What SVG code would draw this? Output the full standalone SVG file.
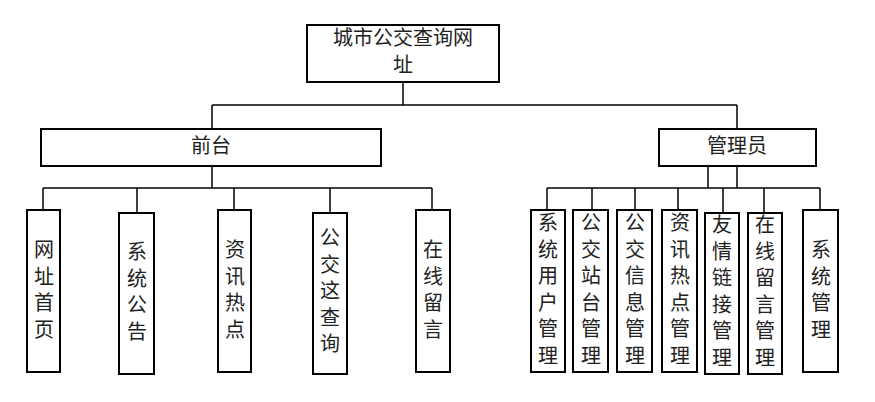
<svg xmlns="http://www.w3.org/2000/svg" width="875" height="402" viewBox="0 0 875 402">
<style>
.n{fill:#fff;stroke:#000;stroke-width:2}
line{stroke:#000;stroke-width:1.5}
text{font-family:"Noto Sans CJK SC","Liberation Sans",sans-serif;font-size:20px;fill:#222;text-anchor:middle}
</style>
<rect width="875" height="402" fill="#fff"/>
<g id="connectors">
<line x1="403" y1="82" x2="403" y2="105"/>
<line x1="212" y1="105" x2="737" y2="105"/>
<line x1="212" y1="105" x2="212" y2="129"/>
<line x1="737" y1="105" x2="737" y2="129"/>
<line x1="212" y1="166" x2="212" y2="188"/>
<line x1="43" y1="188" x2="432" y2="188"/>
<line x1="43" y1="188" x2="43" y2="210"/>
<line x1="137" y1="188" x2="137" y2="213"/>
<line x1="234" y1="188" x2="234" y2="210"/>
<line x1="330" y1="188" x2="330" y2="213"/>
<line x1="432" y1="188" x2="432" y2="210"/>
<line x1="708" y1="166" x2="708" y2="188"/>
<line x1="737" y1="166" x2="737" y2="188"/>
<line x1="547" y1="188" x2="820" y2="188"/>
<line x1="547" y1="188" x2="547" y2="210"/>
<line x1="592" y1="188" x2="592" y2="210"/>
<line x1="635" y1="188" x2="635" y2="210"/>
<line x1="678" y1="188" x2="678" y2="210"/>
<line x1="723" y1="188" x2="723" y2="213"/>
<line x1="764" y1="188" x2="764" y2="213"/>
<line x1="820" y1="188" x2="820" y2="210"/>
</g>
<g id="root"><rect class="n" x="307" y="25" width="192" height="57"/><text x="403" y="45">城市公交查询网</text><text x="403" y="72">址</text></g>
<g id="front"><rect class="n" x="41" y="129" width="340" height="37"/><text x="211" y="153">前台</text></g>
<g id="admin"><rect class="n" x="659" y="129" width="157" height="37"/><text x="737" y="153">管理员</text></g>
<g id="f1"><rect class="n" x="27" y="210" width="33" height="162"/><text x="44" y="257"><tspan x="44">网</tspan><tspan x="44" dy="26.5">址</tspan><tspan x="44" dy="26.5">首</tspan><tspan x="44" dy="26.5">页</tspan></text></g>
<g id="f2"><rect class="n" x="119" y="213" width="35" height="161"/><text x="137" y="259"><tspan x="137">系</tspan><tspan x="137" dy="26.5">统</tspan><tspan x="137" dy="26.5">公</tspan><tspan x="137" dy="26.5">告</tspan></text></g>
<g id="f3"><rect class="n" x="218" y="210" width="33" height="162"/><text x="235" y="257"><tspan x="235">资</tspan><tspan x="235" dy="26.5">讯</tspan><tspan x="235" dy="26.5">热</tspan><tspan x="235" dy="26.5">点</tspan></text></g>
<g id="f4"><rect class="n" x="313" y="213" width="34" height="161"/><text x="330" y="245"><tspan x="330">公</tspan><tspan x="330" dy="26.5">交</tspan><tspan x="330" dy="26.5">这</tspan><tspan x="330" dy="26.5">查</tspan><tspan x="330" dy="26.5">询</tspan></text></g>
<g id="f5"><rect class="n" x="416" y="210" width="34" height="162"/><text x="433" y="257"><tspan x="433">在</tspan><tspan x="433" dy="26.5">线</tspan><tspan x="433" dy="26.5">留</tspan><tspan x="433" dy="26.5">言</tspan></text></g>
<g id="a1"><rect class="n" x="531" y="210" width="34" height="162"/><text x="548" y="230"><tspan x="548">系</tspan><tspan x="548" dy="26.5">统</tspan><tspan x="548" dy="26.5">用</tspan><tspan x="548" dy="26.5">户</tspan><tspan x="548" dy="26.5">管</tspan><tspan x="548" dy="26.5">理</tspan></text></g>
<g id="a2"><rect class="n" x="573" y="210" width="35" height="162"/><text x="591" y="230"><tspan x="591">公</tspan><tspan x="591" dy="26.5">交</tspan><tspan x="591" dy="26.5">站</tspan><tspan x="591" dy="26.5">台</tspan><tspan x="591" dy="26.5">管</tspan><tspan x="591" dy="26.5">理</tspan></text></g>
<g id="a3"><rect class="n" x="617" y="210" width="35" height="162"/><text x="635" y="230"><tspan x="635">公</tspan><tspan x="635" dy="26.5">交</tspan><tspan x="635" dy="26.5">信</tspan><tspan x="635" dy="26.5">息</tspan><tspan x="635" dy="26.5">管</tspan><tspan x="635" dy="26.5">理</tspan></text></g>
<g id="a4"><rect class="n" x="662" y="210" width="35" height="162"/><text x="680" y="230"><tspan x="680">资</tspan><tspan x="680" dy="26.5">讯</tspan><tspan x="680" dy="26.5">热</tspan><tspan x="680" dy="26.5">点</tspan><tspan x="680" dy="26.5">管</tspan><tspan x="680" dy="26.5">理</tspan></text></g>
<g id="a5"><rect class="n" x="705" y="213" width="34" height="161"/><text x="722" y="232"><tspan x="722">友</tspan><tspan x="722" dy="26.5">情</tspan><tspan x="722" dy="26.5">链</tspan><tspan x="722" dy="26.5">接</tspan><tspan x="722" dy="26.5">管</tspan><tspan x="722" dy="26.5">理</tspan></text></g>
<g id="a6"><rect class="n" x="748" y="213" width="34" height="161"/><text x="765" y="232"><tspan x="765">在</tspan><tspan x="765" dy="26.5">线</tspan><tspan x="765" dy="26.5">留</tspan><tspan x="765" dy="26.5">言</tspan><tspan x="765" dy="26.5">管</tspan><tspan x="765" dy="26.5">理</tspan></text></g>
<g id="a7"><rect class="n" x="803" y="210" width="35" height="162"/><text x="821" y="257"><tspan x="821">系</tspan><tspan x="821" dy="26.5">统</tspan><tspan x="821" dy="26.5">管</tspan><tspan x="821" dy="26.5">理</tspan></text></g>
</svg>
